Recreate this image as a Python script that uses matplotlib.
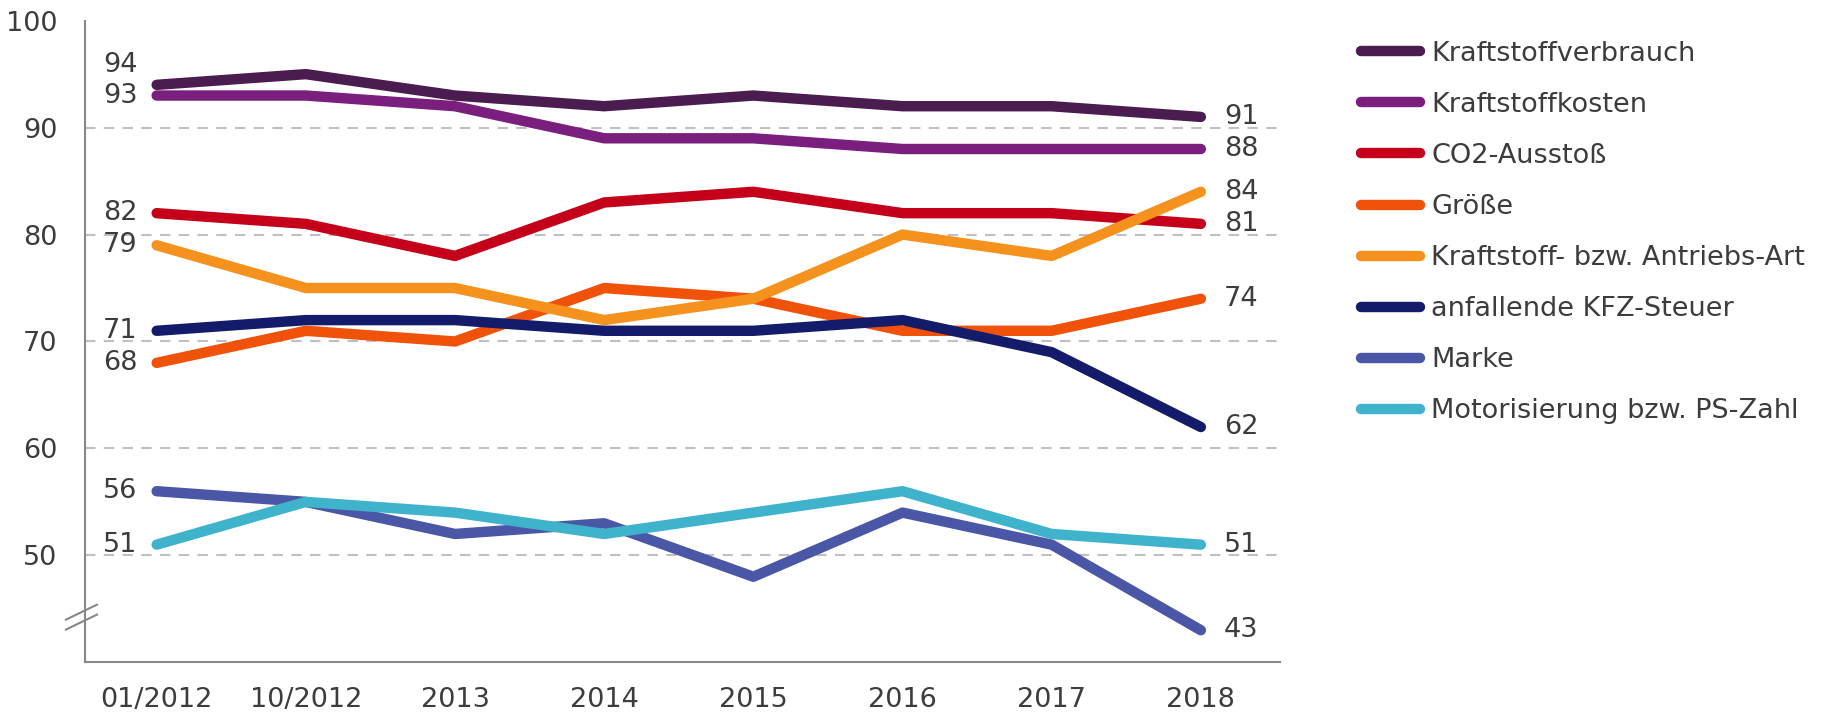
import matplotlib
matplotlib.use("Agg")
import matplotlib.pyplot as plt

# Kaufkriterien beim Autokauf, Angaben in Prozent
zeitpunkte = ["01/2012", "10/2012", "2013", "2014", "2015", "2016", "2017", "2018"]

kraftstoffverbrauch = [94, 95, 93, 92, 93, 92, 92, 91]
kraftstoffkosten = [93, 93, 92, 89, 89, 88, 88, 88]
co2_ausstoss = [82, 81, 78, 83, 84, 82, 82, 81]
groesse = [68, 71, 70, 75, 74, 71, 71, 74]
antriebsart = [79, 75, 75, 72, 74, 80, 78, 84]
kfz_steuer = [71, 72, 72, 71, 71, 72, 69, 62]
marke = [56, 55, 52, 53, 48, 54, 51, 43]
motorisierung = [51, 55, 54, 52, 54, 56, 52, 51]

namen = ["Kraftstoffverbrauch", "Kraftstoffkosten", "CO2-Ausstoß", "Größe",
         "Kraftstoff- bzw. Antriebs-Art", "anfallende KFZ-Steuer", "Marke",
         "Motorisierung bzw. PS-Zahl"]
reihen = [kraftstoffverbrauch, kraftstoffkosten, co2_ausstoss, groesse,
          antriebsart, kfz_steuer, marke, motorisierung]
farben = ["#4b1c50", "#7a1f7e", "#c4001a", "#f0520a",
          "#f5921e", "#141b6a", "#4a56a6", "#3fb2cc"]

textfarbe = "#3c3c3c"
schrift = 19.5
plt.rcParams["font.family"] = ["DejaVu Sans"]

fig = plt.figure(figsize=(18.29, 7.13), dpi=100)
ax = fig.add_axes([0.0465, 0.0711, 0.6533, 0.8999])

x = list(range(len(zeitpunkte)))
for werte, name, farbe in zip(reihen, namen, farben):
    ax.plot(x, werte, color=farbe, linewidth=7.5, label=name,
            solid_capstyle="round", solid_joinstyle="round", zorder=3)

# Werte am Anfang und am Ende beschriften
for werte in reihen:
    dy = 20 if werte is kraftstoffverbrauch else 0
    ax.annotate(str(werte[0]), (x[0], werte[0]), xytext=(-19, dy),
                textcoords="offset pixels", ha="right", va="center",
                fontsize=schrift, color=textfarbe)
    ax.annotate(str(werte[-1]), (x[-1], werte[-1]), xytext=(23, 0),
                textcoords="offset pixels", ha="left", va="center",
                fontsize=schrift, color=textfarbe)

ax.set_xlim(-0.48, 7.53)
ax.set_ylim(40, 100)
ax.set_xticks(x)
ax.set_xticklabels(zeitpunkte)
ax.set_yticks([50, 60, 70, 80, 90, 100])
ax.tick_params(axis="both", length=0, labelsize=schrift, colors=textfarbe)
ax.tick_params(axis="x", pad=18)
ax.tick_params(axis="y", pad=20)

for y in [50, 60, 70, 80, 90]:
    ax.axhline(y, color="#c0c0c0", linewidth=1.5, linestyle=(0, (5, 4)), zorder=1)

for s in ["top", "right"]:
    ax.spines[s].set_visible(False)
for s in ["left", "bottom"]:
    ax.spines[s].set_color("#888888")
    ax.spines[s].set_linewidth(1.5)

# Achsenbruch
trans = ax.get_yaxis_transform()
ax.plot([-0.016, 0.010], [43.99, 45.39], color="#888888", linewidth=1.5,
        transform=trans, clip_on=False)
ax.plot([-0.016, 0.010], [43.06, 44.46], color="#888888", linewidth=1.5,
        transform=trans, clip_on=False)

leg = fig.legend(loc="upper left", bbox_to_anchor=(1350 / 1829, 1 - 30 / 713),
                 frameon=False, fontsize=schrift, handlelength=2.2,
                 handletextpad=0.4, labelspacing=0.925, borderaxespad=0)
for t in leg.get_texts():
    t.set_color(textfarbe)
for l in leg.get_lines():
    l.set_linewidth(7.5)
    l.set_solid_capstyle("round")

fig.savefig("out.png", dpi=100)
